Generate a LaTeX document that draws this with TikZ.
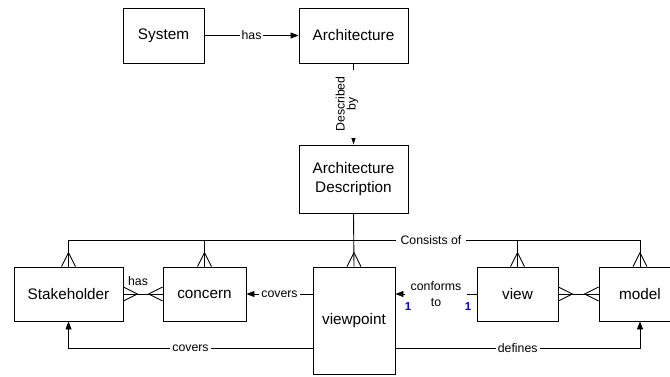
\documentclass[tikz,border=0pt]{standalone}
\usepackage{fontspec}
\setmainfont{Liberation Sans}
\usetikzlibrary{arrows.meta}
\begin{document}
\begin{tikzpicture}[x=1pt,y=-1pt,
  box/.style={draw, line width=0.9pt, font=\fontsize{15.3}{18.5}\selectfont, inner sep=0pt},
  lbl/.style={fill=white, font=\fontsize{12.3}{13}\selectfont, inner sep=2pt},
  conn/.style={line width=0.9pt},
  arr/.style={conn, -{Triangle[length=8pt,width=6pt]}},
  crow/.pic={\draw[line width=0.9pt] (-7pt,0pt) -- (0pt,14pt) -- (7pt,0pt);},
  one/.style={text=blue, font=\bfseries\fontsize{11.5}{12}\selectfont, inner sep=0pt}
]
\useasboundingbox (0,0) rectangle (670,376);
% boxes
\node[box, minimum width=81pt, minimum height=55pt] (sys) at (163.5,35.5) {System};
\node[box, minimum width=109pt, minimum height=55pt] (arch) at (353.5,35.5) {Architecture};
\node[box, minimum width=109pt, minimum height=68pt, align=center] (ad) at (353.5,179) {Architecture\\Description};
\node[box, minimum width=109pt, minimum height=54pt] (stk) at (68.5,294) {Stakeholder};
\node[box, minimum width=83pt, minimum height=54pt] (conc) at (204.5,294) {concern};
\node[box, minimum width=82pt, minimum height=107pt] (vp) at (354,320.5) {viewpoint};
\node[box, minimum width=81pt, minimum height=54pt] (view) at (517.5,294) {view};
\node[box, minimum width=82pt, minimum height=54pt] (mdl) at (640,294) {model};
% top connectors
\draw[arr] (sys) -- node[lbl]{has} (arch);
\draw[conn, -{Triangle[length=8pt,width=5pt]}] (arch) -- (ad);
\node[lbl, rotate=90, align=center, inner sep=6pt, font=\fontsize{12.3}{11}\selectfont] (descr) at (347,104) {Described\\by};
% consists of
\coordinate (cy) at (0,240);
\draw[conn] (stk.north) -- (stk.north |- cy) -- (mdl.north |- cy) -- (mdl.north);
\draw[conn] (conc.north) -- (conc.north |- cy);
\draw[conn] (view.north) -- (view.north |- cy);
\draw[conn] (ad.south) -- (vp.north);
\node[lbl, inner sep=5pt] (cons) at (431,240) {Consists of};
\pic at (stk.north) {crow};
\pic at (conc.north) {crow};
\pic at (vp.north) {crow};
\pic at (view.north) {crow};
\pic at (mdl.north) {crow};
% middle row
\draw[conn] (stk.east) -- (conc.west);
\pic[rotate=-90] at (stk.east) {crow};
\pic[rotate=90] at (conc.west) {crow};
\node[font=\fontsize{12.3}{13}\selectfont, inner sep=0pt] (hasl) at (138,281) {has};
\draw[arr] (vp.west |- conc.east) -- node[lbl]{covers} (conc.east);
\draw[arr] (view.west) -- node[lbl, align=center, inner sep=6pt, font=\fontsize{12.3}{16}\selectfont]{conforms\\to} (view.west -| vp.east);
\node[one] (one1) at (408,307) {1};
\node[one] (one2) at (468,307) {1};
\draw[conn] (view.east) -- (mdl.west);
\pic[rotate=-90] at (view.east) {crow};
\pic[rotate=90] at (mdl.west) {crow};
% bottom
\coordinate (ly) at (0,348);
\draw[arr] (vp.west |- ly) -| node[lbl, pos=0.25]{covers} (stk.south);
\draw[arr] (vp.east |- ly) -| node[lbl, pos=0.25]{defines} (mdl.south);
\end{tikzpicture}
\end{document}
